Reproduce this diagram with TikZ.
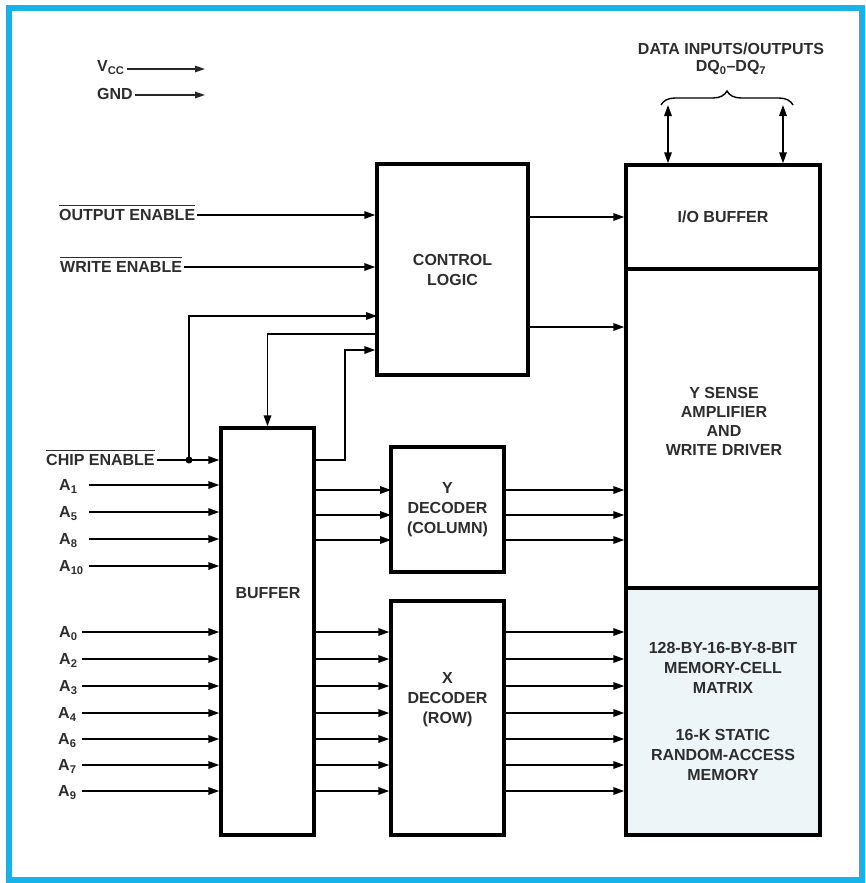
\documentclass[tikz,border=0pt]{standalone}
\usepackage{fontspec}
\setmainfont{Liberation Sans}
\usetikzlibrary{arrows.meta,decorations.pathreplacing}
\definecolor{framecyan}{RGB}{22,178,234}
\definecolor{ink}{RGB}{45,45,45}
\definecolor{cellfill}{RGB}{238,245,249}
\newcommand{\sigfont}{\fontsize{16}{20}\selectfont\bfseries}
\newcommand{\negsig}[1]{\vbox{\hrule height 1.1pt\kern 3.6pt\hbox{#1}}}
\newcommand{\addr}[2]{\makebox[#1][l]{A\textsubscript{#2}}}
\tikzset{
  blk/.style={draw,line width=3.4pt,inner sep=0pt,font=\sigfont,text=ink,align=center},
  txt/.style={font=\sigfont,text=ink,align=center,inner sep=0pt},
  lbl/.style={font=\sigfont,text=ink,inner sep=2pt,text height=11.5pt,text depth=0pt},
  edge/.style={-{Triangle[length=11pt,width=7.5pt]},line width=1.7pt},
  dual/.style={{Triangle[length=11pt,width=7.5pt]}-{Triangle[length=11pt,width=7.5pt]},line width=1.7pt},
  pwr/.style={-{Triangle[length=10pt,width=6.5pt]},line width=1.3pt,draw=black!85},
  junction/.style={circle,fill=black,minimum size=7pt,inner sep=0pt},
  frame/.style={draw=framecyan,line width=6pt},
}
\begin{document}
\begin{tikzpicture}[x=1pt,y=-1pt]
  \useasboundingbox (0,0) rectangle (865,883);
  \draw[frame] (9,8.5) rectangle (862,880);
  % ---- supply pins ----
  \node[lbl,anchor=west] (vcc) at (95,66) {V\textsubscript{CC}};
  \coordinate (vccTip) at (205,69);
  \node[lbl,anchor=west] (gnd) at (95,94) {GND};
  \coordinate (gndTip) at (205,95);
  % ---- data bus ----
  \node[txt] (dq) at (731,59) {DATA INPUTS/OUTPUTS\\[-3pt]DQ\textsubscript{0}--DQ\textsubscript{7}};
  \coordinate (braceL) at (661,105);
  \coordinate (braceR) at (793,105);
  \coordinate (dqA) at (668,105);
  \coordinate (dqB) at (783,105);
  % ---- blocks ----
  \node[blk,minimum width=151pt,minimum height=211pt] (ctrl) at (452.5,269.5) {CONTROL\\LOGIC};
  \node[blk,minimum width=194pt,minimum height=104pt] (iobuf) at (723,217) {I/O BUFFER};
  \node[blk,minimum width=194pt,minimum height=319pt] (ysense) at (723,428.5) {};
  \node[txt] (ysenseTxt) at (724,421) {Y SENSE\\[-1pt]AMPLIFIER\\[-1pt]AND\\[-1pt]WRITE DRIVER};
  \node[blk,fill=cellfill,minimum width=194pt,minimum height=247pt] (matrix) at (723,711.5)
    {128-BY-16-BY-8-BIT\\MEMORY-CELL\\MATRIX\\[27pt]16-K STATIC\\RANDOM-ACCESS\\MEMORY};
  \node[blk,minimum width=93pt,minimum height=407pt] (buffer) at (267.5,631.5) {};
  \node[txt] (bufferTxt) at (268,593) {BUFFER};
  \node[blk,minimum width=113pt,minimum height=125pt] (ydec) at (447.5,509.5) {Y\\DECODER\\(COLUMN)};
  \node[blk,minimum width=113pt,minimum height=234pt] (xdec) at (447.5,718) {};
  \node[txt] (xdecTxt) at (447.5,700) {X\\DECODER\\(ROW)};
  % ---- control inputs ----
  \node[lbl,anchor=west] (oe) at (57,215) {\negsig{OUTPUT ENABLE}};
  \node[lbl,anchor=west] (we) at (58,267) {\negsig{WRITE ENABLE}};
  \node[lbl,anchor=west] (ce) at (44,460) {\negsig{CHIP ENABLE}};
  \node[junction] (ceDot) at (189,460) {};
  \coordinate (ctlCE) at (377,316);
  \coordinate (ctlBuf) at (377,334);
  \coordinate (bufKnee) at (345,350);
  \coordinate (ctlYS) at (528,327);
  % ---- address inputs ----
  \node[lbl,anchor=west] (a1) at (57,485) {\addr{28pt}{1}};
  \node[lbl,anchor=west] (a5) at (57,512) {\addr{28pt}{5}};
  \node[lbl,anchor=west] (a8) at (57,539) {\addr{28pt}{8}};
  \node[lbl,anchor=west] (a10) at (57,566) {\addr{28pt}{10}};
  \node[lbl,anchor=west] (a0) at (57,632) {\addr{21pt}{0}};
  \node[lbl,anchor=west] (a2) at (57,659) {\addr{21pt}{2}};
  \node[lbl,anchor=west] (a3) at (57,686) {\addr{21pt}{3}};
  \node[lbl,anchor=west] (a4) at (56,713) {\addr{22pt}{4}};
  \node[lbl,anchor=west] (a6) at (56,739) {\addr{22pt}{6}};
  \node[lbl,anchor=west] (a7) at (56,765) {\addr{22pt}{7}};
  \node[lbl,anchor=west] (a9) at (56,791) {\addr{22pt}{9}};
  \coordinate (yc1) at (391,490);
  \coordinate (yc2) at (391,515);
  \coordinate (yc3) at (391,540);
  % ---- edges ----
  \draw[pwr] (vcc.east |- vccTip) -- (vccTip);
  \draw[pwr] (gnd.east |- gndTip) -- (gndTip);
  \draw[line width=1.4pt,decorate,decoration={brace,amplitude=14pt}] (braceL) -- (braceR);
  \draw[dual] (dqA) -- (dqA |- iobuf.north);
  \draw[dual] (dqB) -- (dqB |- iobuf.north);
  \draw[edge] (oe.east) -- (ctrl.west |- oe.east);
  \draw[edge] (we.east) -- (ctrl.west |- we.east);
  \draw[edge] (ce.east) -- (buffer.west |- ce.east);
  \draw[edge] (ceDot.center) |- (ctlCE);
  \draw[edge] (ctlBuf) -| (buffer.north);
  \draw[edge] (buffer.east |- ce.east) -| (bufKnee) -- (ctrl.west |- bufKnee);
  \draw[edge] (ctrl.east |- iobuf.west) -- (iobuf.west);
  \draw[edge] (ctlYS) -- (ysense.west |- ctlYS);
  \draw[edge] (a1.east) -- (buffer.west |- a1.east);
  \draw[edge] (a5.east) -- (buffer.west |- a5.east);
  \draw[edge] (a8.east) -- (buffer.west |- a8.east);
  \draw[edge] (a10.east) -- (buffer.west |- a10.east);
  \draw[edge] (a0.east) -- (buffer.west |- a0.east);
  \draw[edge] (a2.east) -- (buffer.west |- a2.east);
  \draw[edge] (a3.east) -- (buffer.west |- a3.east);
  \draw[edge] (a4.east) -- (buffer.west |- a4.east);
  \draw[edge] (a6.east) -- (buffer.west |- a6.east);
  \draw[edge] (a7.east) -- (buffer.west |- a7.east);
  \draw[edge] (a9.east) -- (buffer.west |- a9.east);
  \draw[edge] (buffer.east |- yc1) -- (yc1);
  \draw[edge] (buffer.east |- yc2) -- (yc2);
  \draw[edge] (buffer.east |- yc3) -- (yc3);
  \draw[edge] (ydec.east |- yc1) -- (ysense.west |- yc1);
  \draw[edge] (ydec.east |- yc2) -- (ysense.west |- yc2);
  \draw[edge] (ydec.east |- yc3) -- (ysense.west |- yc3);
  \draw[edge] (buffer.east |- a0.east) -- (xdec.west |- a0.east);
  \draw[edge] (buffer.east |- a2.east) -- (xdec.west |- a2.east);
  \draw[edge] (buffer.east |- a3.east) -- (xdec.west |- a3.east);
  \draw[edge] (buffer.east |- a4.east) -- (xdec.west |- a4.east);
  \draw[edge] (buffer.east |- a6.east) -- (xdec.west |- a6.east);
  \draw[edge] (buffer.east |- a7.east) -- (xdec.west |- a7.east);
  \draw[edge] (buffer.east |- a9.east) -- (xdec.west |- a9.east);
  \draw[edge] (xdec.east |- a0.east) -- (matrix.west |- a0.east);
  \draw[edge] (xdec.east |- a2.east) -- (matrix.west |- a2.east);
  \draw[edge] (xdec.east |- a3.east) -- (matrix.west |- a3.east);
  \draw[edge] (xdec.east |- a4.east) -- (matrix.west |- a4.east);
  \draw[edge] (xdec.east |- a6.east) -- (matrix.west |- a6.east);
  \draw[edge] (xdec.east |- a7.east) -- (matrix.west |- a7.east);
  \draw[edge] (xdec.east |- a9.east) -- (matrix.west |- a9.east);
\end{tikzpicture}
\end{document}
